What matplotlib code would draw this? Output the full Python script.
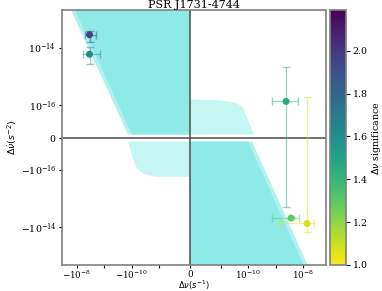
import matplotlib
matplotlib.use("Agg")
import matplotlib.pyplot as plt
from matplotlib.colors import Normalize

plt.rcParams['font.family'] = 'serif'
plt.rcParams['font.serif'] = ['DejaVu Serif']

# glitch candidates: dnu, dnu_dot with asymmetric errors, significance
dnu = [-3.5e-9, -3.5e-9, 2.4e-9, 3.65e-9, 1.39e-8]
dnu_lo = [1.8e-9, 2.3e-9, 1.64e-9, 2.9e-9, 1.26e-8]
dnu_hi = [1.5e-9, 2.1e-9, 4.3e-9, 3.45e-9, 1.1e-8]
dnud = [2.8e-14, 5.9e-15, 1.38e-16, -4.75e-15, -7.3e-15]
dnud_lo = [1.2e-14, 3.25e-15, 2.07e-15, 3e-16, 7.7e-15]
dnud_hi = [0.9e-14, 4.4e-15, 1.96e-15, 3e-16, 7.5e-15]
sig = [1.95, 1.62, 1.47, 1.30, 1.07]

# allowed regions (boundary vertices in data units)
ul_x = [-2.57e-8, -1e-10, 0, 0]
ul_y = [1e-12, 9.4e-18, 9.4e-18, 1e-12]
ul_edge_x = [-3.58e-8, -1.39e-10, 0, 0]
lr_x = [1e-10, 2.22e-8, 0, 0]
lr_y = [-1.25e-17, -1e-12, -1e-12, -1.25e-17]
lr_edge_x = [1.39e-10, 3.11e-8, 0, 0]
ur_x = [0, 0.98e-11, 3.35e-11, 6.0e-11, 8.4e-11, 1.65e-10, 0]
ur_y = [1.61e-16, 1.49e-16, 1.27e-16, 0.97e-16, 0.69e-16, 9.4e-18, 9.4e-18]
ll_x = [-1.39e-10, -1.0e-10, -6.55e-11, -3.96e-11, -1.45e-11, 0, 0]
ll_y = [-1.25e-17, -5.6e-17, -9.7e-17, -1.38e-16, -1.75e-16, -1.75e-16, -1.25e-17]

fig = plt.figure(figsize=(3.82, 2.91), dpi=100)
ax = fig.add_axes([62/382, 1-265/291, 264/382, 255/291])
cax = fig.add_axes([330/382, 1-265/291, 15.5/382, 255/291])

ax.set_xscale('symlog', linthresh=1e-11)
ax.set_yscale('symlog', linthresh=1e-16)

ax.fill(ul_edge_x, ul_y, color='#b2f1ee', lw=0, zorder=1)
ax.fill(ul_x, ul_y, color='#8deae6', lw=0, zorder=1.1)
ax.fill(lr_edge_x, lr_y, color='#b2f1ee', lw=0, zorder=1)
ax.fill(lr_x, lr_y, color='#8deae6', lw=0, zorder=1.1)
ax.fill(ur_x, ur_y, color='#c6f6f2', lw=0, zorder=1)
ax.fill(ll_x, ll_y, color='#c6f6f2', lw=0, zorder=1)

ax.axhline(0, color='0.35', lw=1.2, zorder=1.5)
ax.axvline(0, color='0.35', lw=1.2, zorder=1.5)

norm = Normalize(vmin=1.0, vmax=2.19)
cmap = plt.get_cmap('viridis_r')
for i in range(len(dnu)):
    ax.errorbar(dnu[i], dnud[i],
                xerr=[[dnu_lo[i]], [dnu_hi[i]]],
                yerr=[[dnud_lo[i]], [dnud_hi[i]]],
                fmt='none', ecolor=cmap(norm(sig[i])), alpha=0.45,
                capsize=3, elinewidth=1, zorder=2)
sc = ax.scatter(dnu, dnud, c=sig, cmap=cmap, norm=norm, s=16, zorder=3)

ax.set_xlim(-3.5e-8, 6.8e-8)
ax.set_ylim(-2e-13, 2e-13)
ax.set_xticks([-1e-8, -1e-10, 0, 1e-10, 1e-8])
ax.set_xticks([-1e-9, -1e-11, 1e-11, 1e-9], minor=True)
ax.set_yticks([-1e-14, -1e-16, 0, 1e-16, 1e-14])
ax.set_yticks([], minor=True)
ax.tick_params(labelsize=6.8, direction='out', length=2.5, width=0.8, pad=1.5)
ax.tick_params(axis='x', labelsize=6.3, length=2, pad=0.5)
ax.tick_params(which='minor', length=2, width=0.8)

for s in ax.spines.values():
    s.set_color('0.5')
    s.set_linewidth(1.2)

ax.set_title('PSR J1731-4744', fontsize=8, pad=1)
ax.set_xlabel(r'$\Delta\nu(s^{-1})$', fontsize=6)
ax.xaxis.set_label_coords(0.5, -0.055)
ax.set_ylabel(r'$\Delta\dot{\nu}(s^{-2})$', fontsize=6.8, labelpad=1)

cb = fig.colorbar(sc, cax=cax)
cb.set_ticks([1.0, 1.2, 1.4, 1.6, 1.8, 2.0])
cb.ax.tick_params(labelsize=6.8, length=3, width=0.8, pad=2)
cb.outline.set_edgecolor('0.5')
cb.outline.set_linewidth(1.2)
cb.set_label(r'$\Delta\nu$ significance', fontsize=6.8, labelpad=2)

fig.savefig('out.png', dpi=100)
